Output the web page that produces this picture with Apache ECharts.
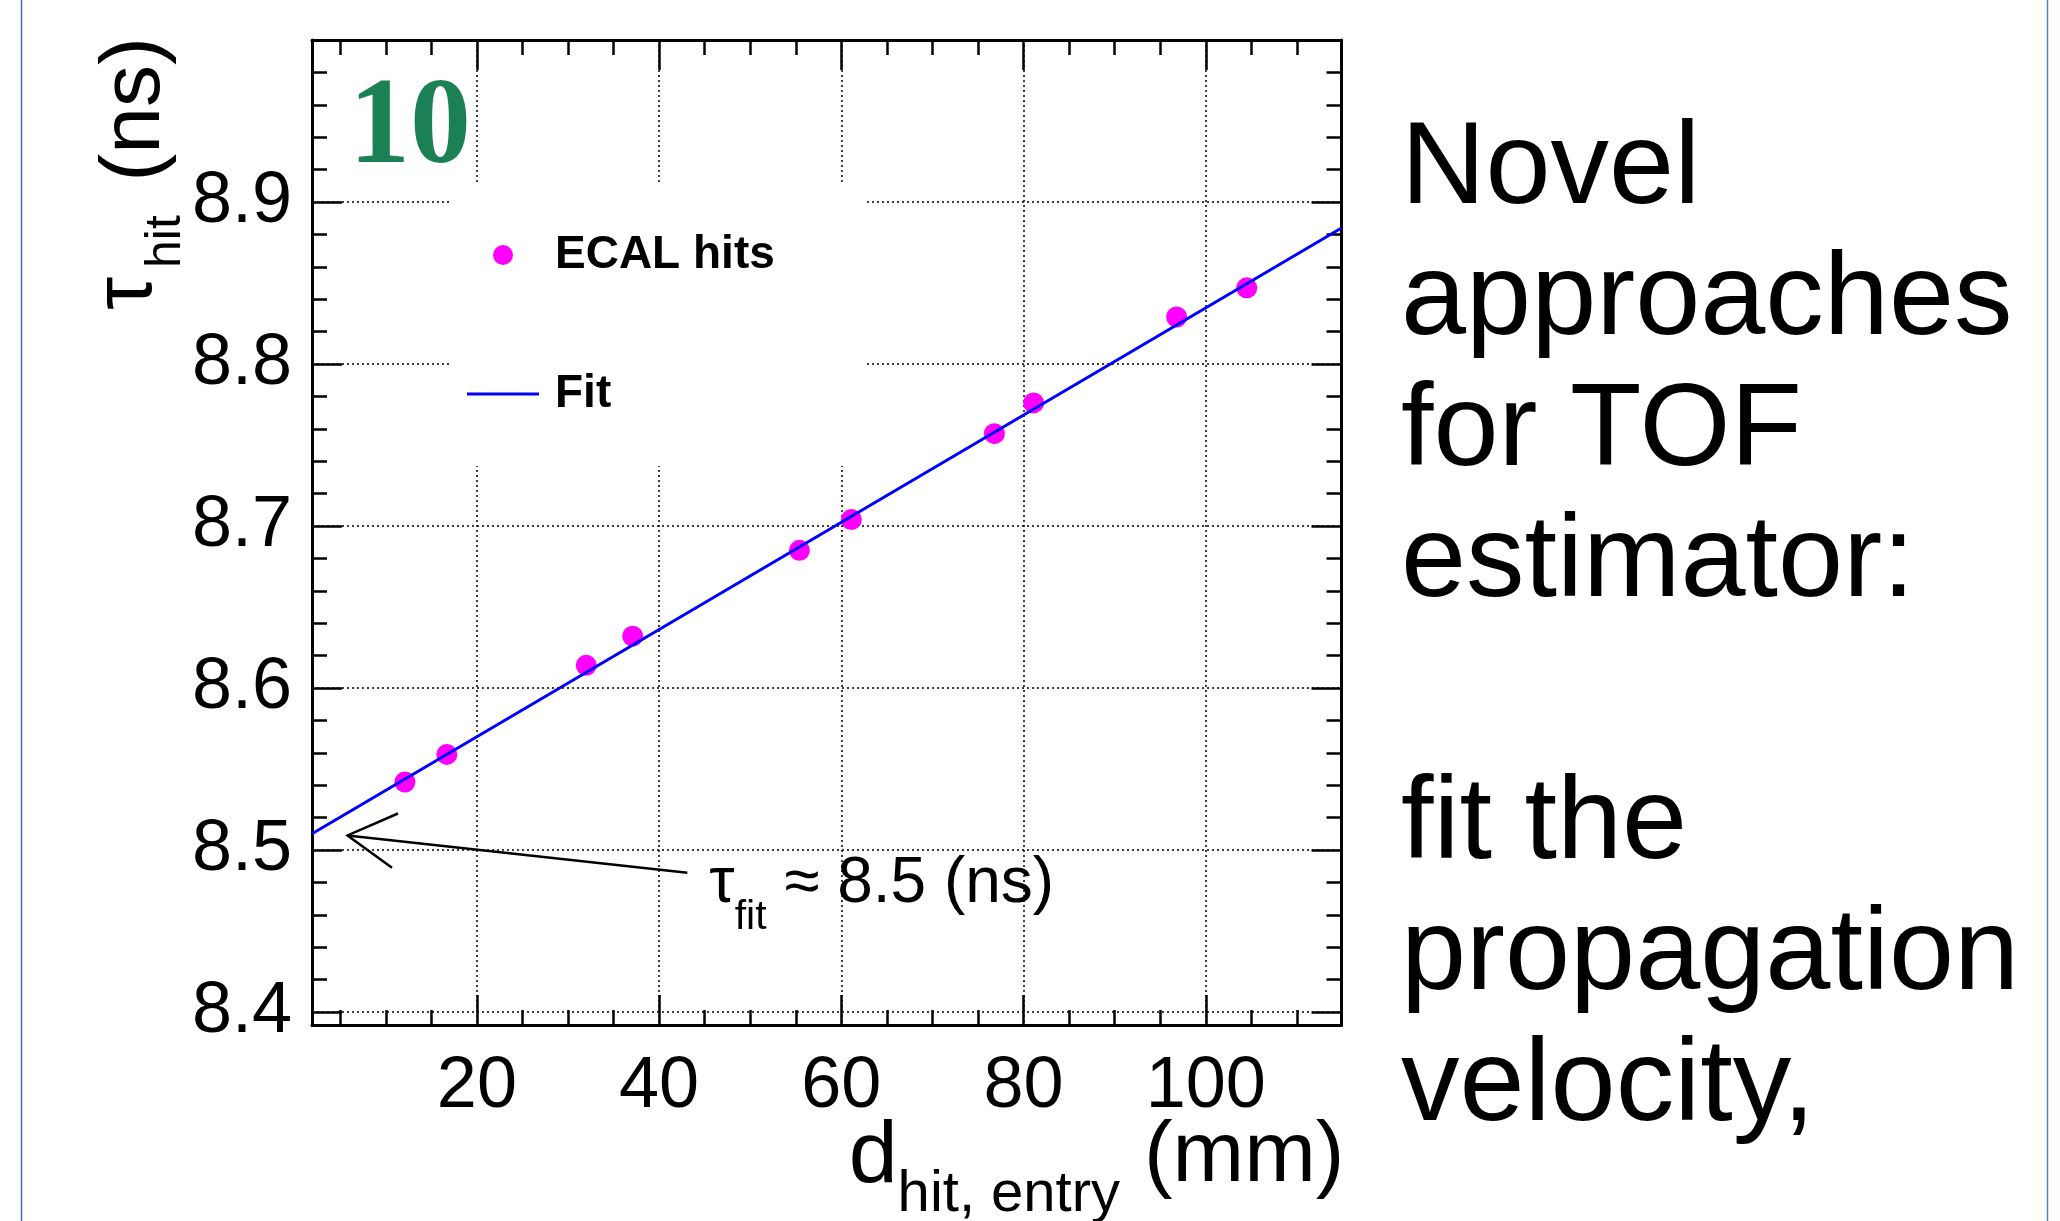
<!DOCTYPE html>
<html>
<head>
<meta charset="utf-8">
<title>tau_hit vs d_hit,entry</title>
<script src="https://cdn.jsdelivr.net/npm/echarts@6/dist/echarts.min.js"></script>
<style>
    html, body { margin: 0; padding: 0; background: #fff; }
    #main { width: 2060px; height: 1221px; }
</style>
</head>
<body>
<div id="main"></div>
<script>
// ECAL hits (mm, ns)
const hitDist = [12.1, 16.7, 32.0, 37.1, 55.4, 61.1, 76.8, 81.1, 96.8, 104.5]
const hitTime = [8.542, 8.559, 8.614, 8.632, 8.685, 8.704, 8.757, 8.776, 8.829, 8.847]

// straight-line fit, its two ends
const fitDist = [1.9, 114.9]
const fitTime = [8.510, 8.884]

// arrow of the tau_fit note: [tail, tip]
const arrowDist = [43.1, 5.8]
const arrowTime = [8.486, 8.509]

const xRange = [1.9, 114.9]
const yRange = [8.392, 9.0]

const notes = ['Novel', 'approaches', 'for TOF', 'estimator:', '', 'fit the', 'propagation', 'velocity,']

const FONT = 'Liberation Sans'
const chart = echarts.init(document.querySelector('#main'))

const frameAxis = (extra) => Object.assign({
    type: 'value',
    axisLine: { show: true, onZero: false, lineStyle: { color: '#000', width: 3 } },
    axisTick: { show: true, inside: true, length: 30, lineStyle: { color: '#000', width: 2.5 } },
    axisLabel: { show: false },
    splitLine: { show: false }
}, extra)

const minor = (n) => ({ show: true, splitNumber: n, length: 15, lineStyle: { color: '#000', width: 2.5 } })
const gridLine = { show: true, lineStyle: { color: '#000', width: 1.5, type: [2, 3] } }

const option = {
    animation: false,
    backgroundColor: '#fff',
    grid: { left: 312, top: 40, width: 1029.5, height: 985, containLabel: false, outerBoundsMode: 'none' },
    xAxis: [
        frameAxis({
            position: 'bottom',
            min: xRange[0], max: xRange[1],
            minorTick: minor(4),
            axisLabel: {
                show: true, fontSize: 72, fontFamily: FONT, color: '#000', margin: 26,
                showMinLabel: false, showMaxLabel: false
            },
            splitLine: gridLine,
            name: '{d|d}{s|hit, entry}{m| (mm)}',
            nameLocation: 'end',
            nameGap: 3,
            nameMoveOverlap: false,
            nameTextStyle: {
                align: 'right',
                verticalAlign: 'top',
                padding: [89, 0, 0, 0],
                rich: {
                    d: { fontSize: 88, lineHeight: 88, fontFamily: FONT, color: '#000', verticalAlign: 'top' },
                    s: { fontSize: 58, lineHeight: 58, fontFamily: FONT, color: '#000', verticalAlign: 'top', padding: [52, 0, 0, 0] },
                    m: { fontSize: 86, lineHeight: 88, fontFamily: FONT, color: '#000', verticalAlign: 'top' }
                }
            }
        }),
        frameAxis({ position: 'top', min: xRange[0], max: xRange[1], minorTick: minor(4) })
    ],
    yAxis: [
        frameAxis({
            position: 'left',
            min: yRange[0], max: yRange[1],
            minorTick: minor(5),
            axisLabel: {
                show: true, fontSize: 72, fontFamily: FONT, color: '#000', margin: 20,
                showMinLabel: false, showMaxLabel: false,
                formatter: v => v.toFixed(1)
            },
            splitLine: gridLine
        }),
        frameAxis({ position: 'right', min: yRange[0], max: yRange[1], minorTick: minor(5) })
    ],
    legend: {
        orient: 'vertical',
        left: 450,
        top: 185,
        padding: [47, 90, 49, 17],
        backgroundColor: '#fff',
        itemWidth: 72,
        itemHeight: 20,
        itemGap: 93,
        selectedMode: false,
        textStyle: {
            fontSize: 46, lineHeight: 46, fontWeight: 'bold', fontFamily: FONT, color: '#000',
            padding: [0, 0, 0, 11]
        },
        data: [
            { name: 'ECAL hits', icon: 'circle' },
            { name: 'Fit', icon: 'path://M0,0 L72,0 L72,3 L0,3 Z' }
        ]
    },
    series: [
        {
            name: 'ECAL hits',
            type: 'scatter',
            symbol: 'circle',
            symbolSize: 21,
            z: 2,
            itemStyle: { color: '#ff00ff', opacity: 1 },
            data: hitDist.map((d, i) => [d, hitTime[i]])
        },
        {
            name: 'Fit',
            type: 'line',
            symbol: 'none',
            showSymbol: false,
            z: 3,
            lineStyle: { color: '#0000ff', width: 3 },
            itemStyle: { color: '#0000ff' },
            data: fitDist.map((d, i) => [d, fitTime[i]])
        }
    ]
}

chart.setOption(option)

// note arrow and text, placed through the grid's own scales
const tail = chart.convertToPixel({ seriesIndex: 0 }, [arrowDist[0], arrowTime[0]])
const tip = chart.convertToPixel({ seriesIndex: 0 }, [arrowDist[1], arrowTime[1]])
const ang = Math.atan2(tail[1] - tip[1], tail[0] - tip[0])
const barb = (a) => [tip[0] + 55 * Math.cos(ang + a), tip[1] + 55 * Math.sin(ang + a)]

// y title, written bottom-to-top next to the axis top
const yTitle = (id, text, size, x, y, align) => ({
    id, type: 'text', x, y, rotation: Math.PI / 2, z: 10,
    style: { text, fontSize: size, fontFamily: FONT, fill: '#000', align, verticalAlign: 'middle' }
})

chart.setOption({
    graphic: [
        // slide edge lines
        { id: 'edgeL', type: 'line', shape: { x1: 21.5, y1: 0, x2: 21.5, y2: 1221 }, style: { stroke: '#3f6db5', lineWidth: 1.5 }, z: 10 },
        { id: 'edgeR', type: 'line', shape: { x1: 2047.5, y1: 0, x2: 2047.5, y2: 1221 }, style: { stroke: '#5b7fbf', lineWidth: 1.5 }, z: 10 },
        yTitle('yTau', 'τ', 84, 128, 310, 'left'),
        yTitle('yHit', 'hit', 50, 166, 268, 'left'),
        yTitle('yUnit', '(ns)', 84, 136, 37, 'right'),
        {
            id: 'tag', type: 'text', x: 349, y: 130, z: 10,
            style: { text: '10', fontSize: 122, fontWeight: 'bold', fontFamily: 'Liberation Serif', fill: '#1b8155', align: 'left', verticalAlign: 'middle' }
        },
        {
            id: 'notes', type: 'text', x: 1401, y: 105, z: 10,
            style: { text: notes.join('\n'), fontSize: 117, lineHeight: 131, fontFamily: FONT, fill: '#000', align: 'left', verticalAlign: 'top' }
        },
        { id: 'shaft', type: 'line', z: 10, shape: { x1: tail[0], y1: tail[1], x2: tip[0], y2: tip[1] }, style: { stroke: '#000', lineWidth: 2.5 } },
        { id: 'head', type: 'polyline', z: 10, shape: { points: [barb(0.52), tip, barb(-0.52)] }, style: { stroke: '#000', lineWidth: 2.5, fill: null } },
        {
            id: 'tauFit', type: 'text', x: tail[0] + 22, y: tail[1] - 20, z: 10,
            style: {
                text: '{a|τ}{b|fit}{c| ≈ 8.5 (ns)}',
                align: 'left', verticalAlign: 'top',
                rich: {
                    a: { fontSize: 64, lineHeight: 64, fontFamily: FONT, fill: '#000', verticalAlign: 'top' },
                    b: { fontSize: 41, lineHeight: 41, fontFamily: FONT, fill: '#000', verticalAlign: 'top', padding: [44, 0, 0, 0] },
                    c: { fontSize: 64, lineHeight: 64, fontFamily: FONT, fill: '#000', verticalAlign: 'top' }
                }
            }
        }
    ]
})
</script>
</body>
</html>
